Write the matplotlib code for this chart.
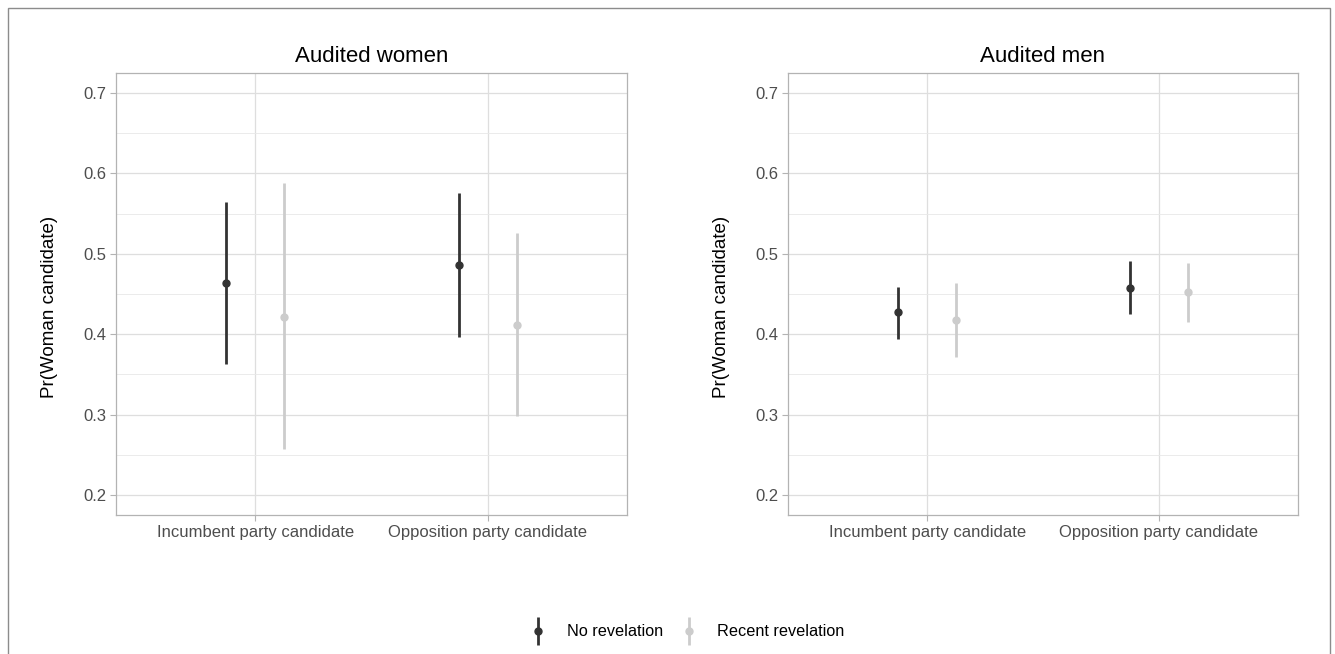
import matplotlib.pyplot as plt
import matplotlib.patches as mpatches
from matplotlib.legend_handler import HandlerErrorbar
import numpy as np

plt.rcParams['font.family'] = ['Liberation Sans', 'DejaVu Sans']

# ---------------------------------------------------------------- data
categories = ["Incumbent party candidate", "Opposition party candidate"]
groups = ["No revelation", "Recent revelation"]
panels = ["Audited women", "Audited men"]

# estimates [group][category]
women_est = [[0.464, 0.486], [0.422, 0.411]]
women_lo = [[0.363, 0.397], [0.257, 0.298]]
women_hi = [[0.564, 0.576], [0.588, 0.526]]

men_est = [[0.427, 0.458], [0.418, 0.452]]
men_lo = [[0.394, 0.425], [0.372, 0.415]]
men_hi = [[0.459, 0.491], [0.464, 0.489]]

colors = ["#333333", "#CCCCCC"]
dodge = [-0.125, 0.125]

# ---------------------------------------------------------------- figure
fig = plt.figure(figsize=(13.35, 6.54), dpi=100)

# outer frame of the image
fig.patches.append(mpatches.Rectangle((8 / 1335, -0.05), 1322 / 1335, 1.05 - 8 / 654,
                                      transform=fig.transFigure, fill=False,
                                      edgecolor="#8C8C8C", linewidth=1.0))

ax_left = fig.add_axes([116 / 1335, 1 - 515 / 654, 511 / 1335, 442 / 654])
ax_right = fig.add_axes([788 / 1335, 1 - 515 / 654, 510 / 1335, 442 / 654])

all_data = [(women_est, women_lo, women_hi), (men_est, men_lo, men_hi)]

handles = []
for ax, title, (est, lo, hi) in zip([ax_left, ax_right], panels, all_data):
    x = np.arange(1, len(categories) + 1)
    for g in range(len(groups)):
        e = np.array(est[g])
        err = np.vstack([e - np.array(lo[g]), np.array(hi[g]) - e])
        h = ax.errorbar(x + dodge[g], e, yerr=err, fmt="o", color=colors[g],
                        ecolor=colors[g], elinewidth=2.0, markersize=5,
                        capsize=0, zorder=3, label=groups[g])
        if ax is ax_left:
            handles.append(h)

    ax.set_xlim(0.4, 2.6)
    ax.set_ylim(0.175, 0.725)
    ax.set_xticks(x)
    ax.set_xticklabels(categories)
    ax.set_yticks([0.2, 0.3, 0.4, 0.5, 0.6, 0.7])
    ax.set_yticks([0.25, 0.35, 0.45, 0.55, 0.65], minor=True)
    ax.grid(True, which="major", color="#DEDEDE", linewidth=0.9, zorder=0)
    ax.grid(True, which="minor", axis="y", color="#E8E8E8", linewidth=0.6, zorder=0)
    ax.set_axisbelow(True)
    for s in ax.spines.values():
        s.set_color("#B3B3B3")
        s.set_linewidth(0.9)
    ax.tick_params(axis="both", which="major", colors="#B3B3B3", labelcolor="#4D4D4D",
                   labelsize=12, length=4, width=0.8, pad=3)
    ax.tick_params(axis="y", which="minor", length=0)
    ax.set_ylabel("Pr(Woman candidate)", fontsize=13.5)
    ax.yaxis.set_label_coords(-0.113, 0.47)
    ax.set_title(title, fontsize=16, pad=8)

fig.legend(handles, groups, loc="center", bbox_to_anchor=(0.5 + 19 / 1335, 1 - 632 / 654),
           ncol=2, frameon=False, fontsize=11.7, handlelength=1.2,
           columnspacing=1.0, handletextpad=1.15,
           handler_map={type(handles[0]): HandlerErrorbar(yerr_size=0.85)})

fig.savefig("out.png", dpi=100)
